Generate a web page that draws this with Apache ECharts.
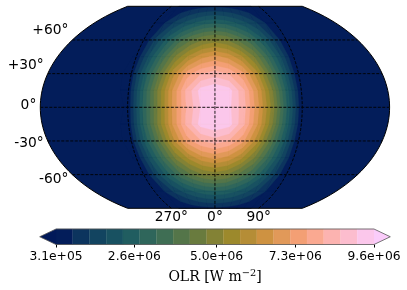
<!DOCTYPE html>
<html><head><meta charset="utf-8">
<style>html,body{margin:0;padding:0;background:#fff}#c{width:407px;height:290px}</style>
<script src="https://cdn.jsdelivr.net/npm/echarts@6/dist/echarts.min.js"></script>
</head><body><div id="c"></div>
<script>
// ---- data ----
const lons = [-105,-90,-75,-60,-45,-30,-15,0,15,30,45,60,75,90,105];
const lats = [90,75,60,45,30,15,0,-15,-30,-45,-60,-75,-90];
// OLR in units of 1e6 W m-2; one row per latitude in `lats`, one column per longitude in `lons`
const olr90  = [.2,.25,.3,.4,.5,.6,.65,.7,.65,.6,.5,.4,.3,.25,.2];
const olr75  = [.2,.25,.8,1.4,1.9,2.3,2.6,2.7,2.6,2.3,1.9,1.4,.8,.2,.2];
const olr60  = [.2,.25,1.4,2.5,3.5,4.2,4.7,4.9,4.7,4.1,3.4,2.4,1.3,.2,.2];
const olr45  = [.2,.35,1.9,3.4,4.8,5.8,6.5,6.8,6.5,5.8,4.7,3.3,1.8,.2,.2];
const olr30  = [.2,.5,2.45,4.2,6,7.4,8.1,8.4,8.1,7.3,5.9,4.1,2.2,.2,.2];
const olr15  = [.2,.45,2.7,4.7,6.6,8.2,9.3,9.55,9.3,8.2,6.6,4.7,2.5,.25,.2];
const olr0   = [.2,.35,2.7,4.6,6.6,8.1,9.1,9.75,9.2,8.3,6.7,4.9,2.6,.25,.2];
const olrS15 = [.2,.45,2.7,4.7,6.6,8.2,9.3,9.55,9.3,8.2,6.6,4.7,2.5,.25,.2];
const olrS30 = [.2,.5,2.45,4.2,6,7.4,8.1,8.4,8.1,7.3,5.9,4.1,2.2,.2,.2];
const olrS45 = [.2,.35,1.9,3.4,4.8,5.8,6.5,6.8,6.5,5.8,4.7,3.3,1.8,.2,.2];
const olrS60 = [.2,.25,1.4,2.5,3.5,4.2,4.7,4.9,4.7,4.1,3.4,2.4,1.3,.2,.2];
const olrS75 = [.2,.25,.8,1.4,1.9,2.3,2.6,2.7,2.6,2.3,1.9,1.4,.8,.2,.2];
const olrS90 = [.2,.25,.3,.4,.5,.6,.65,.7,.65,.6,.5,.4,.3,.25,.2];
const olrRows = [olr90,olr75,olr60,olr45,olr30,olr15,olr0,olrS15,olrS30,olrS45,olrS60,olrS75,olrS90];

const colorbarTicks = [0.31,2.6,5.0,7.3,9.6];
const colorbarTickLabels = ['3.1e+05','2.6e+06','5.0e+06','7.3e+06','9.6e+06'];
const vMin = 0.31, vMax = 9.6, nBands = 19;
const latTicks = [60,30,0,-30,-60];
const latTickLabels = ['+60°','+30°','0°','-30°','-60°'];
const lonTicks = [-90,0,90];
const lonTickLabels = ['270°','0°','90°'];

// ---- style ----
const batlow = ['#011959','#103F60','#1C5A62','#3C6D56','#687B3E','#9D892B','#D29343','#F8A17B','#FDB7BC','#FACCFA'];
const latLabelDy = [-9.3,-8.5,-2,2,4.5];
function hex(c){return [1,3,5].map(i=>parseInt(c.substr(i,2),16));}
function cmap(t){
  const p=Math.min(Math.max(t,0),1)*(batlow.length-1), i=Math.min(Math.floor(p),batlow.length-2), f=p-i;
  const a=hex(batlow[i]),b=hex(batlow[i+1]);
  return 'rgb('+a.map((v,k)=>Math.round(v+(b[k]-v)*f)).join(',')+')';
}
const bandColors=[]; for(let i=0;i<nBands;i++) bandColors.push(cmap(i===0?.012:(i+.5)/nBands));
const levels=[]; for(let i=0;i<=nBands;i++) levels.push(vMin+(vMax-vMin)*i/nBands);

// ---- Kavrayskiy VII projection ----
const D=Math.PI/180, XMAX=1.5*Math.PI/Math.sqrt(3), YMAX=Math.PI/2;
function proj(lon,lat){const p=lat*D;return [3*(lon*D)/(2*Math.PI)*Math.sqrt(Math.PI*Math.PI/3-p*p),p];}

// keep the part of a [lon,lat,v] polygon at or above a threshold
function clipAbove(poly,th){
  const out=[],n=poly.length;
  for(let i=0;i<n;i++){
    const a=poly[i],b=poly[(i+1)%n];
    const ia=a[2]>=th, ib=b[2]>=th;
    if(ia) out.push(a);
    if(ia!==ib){const t=(th-a[2])/(b[2]-a[2]);out.push([a[0]+(b[0]-a[0])*t,a[1]+(b[1]-a[1])*t,th]);}
  }
  return out;
}
// one item per filled band, painted low to high: each paints the region above its level
function renderBand(params,api){
  const b=params.dataIndex, children=[];
  for(let j=0;j<lats.length-1;j++)for(let i=0;i<lons.length-1;i++){
    const q=[[lons[i],lats[j],olrRows[j][i]],[lons[i+1],lats[j],olrRows[j][i+1]],[lons[i+1],lats[j+1],olrRows[j+1][i+1]],[lons[i],lats[j+1],olrRows[j+1][i]]];
    const poly=clipAbove(q,levels[b]);
    if(poly.length<3)continue;
    children.push({type:'polygon',shape:{points:poly.map(p=>api.coord(proj(p[0],p[1])))},style:{fill:bandColors[b],stroke:bandColors[b],lineWidth:.3}});
  }
  return {type:'group',children};
}
function latLine(lat){const r=[];for(let l=-180;l<=180;l+=10)r.push(proj(l,lat));return r;}
function lonLine(lon){const r=[];for(let l=-90;l<=90;l+=5)r.push(proj(lon,l));return r;}
function outline(){const r=[];
  for(let l=-90;l<=90;l+=3)r.push(proj(180,l));
  for(let l=90;l>=-90;l-=3)r.push(proj(-180,l));
  return r;}
const dash={type:'line',coordinateSystem:'cartesian2d',xAxisIndex:0,yAxisIndex:0,showSymbol:false,symbol:'none',silent:true,animation:false,z:5,
  lineStyle:{color:'#000',width:1,type:[3,1.5],cap:'butt',opacity:.9}};

const series=[
 {type:'custom',xAxisIndex:0,yAxisIndex:0,animation:false,silent:true,z:1,data:[[0]],
  renderItem:(p,api)=>({type:'polygon',shape:{points:outline().map(c=>api.coord(c))},style:{fill:bandColors[0]}})},
 {type:'custom',xAxisIndex:0,yAxisIndex:0,animation:false,silent:true,z:2,data:levels.slice(0,nBands).map(v=>[v]),renderItem:renderBand},
];
latTicks.forEach(l=>series.push(Object.assign({},dash,{data:latLine(l)})));
lonTicks.forEach(l=>series.push(Object.assign({},dash,{data:lonLine(l)})));
series.push({type:'custom',xAxisIndex:0,yAxisIndex:0,animation:false,silent:true,z:6,data:[[0]],
  renderItem:(p,api)=>({type:'polygon',shape:{points:outline().map(c=>api.coord(c))},style:{fill:'none',stroke:'#000',lineWidth:1}})});
// graticule labels
const tickFont={fontFamily:'DejaVu Sans',fontSize:13.8,fill:'#000'};
series.push({type:'custom',xAxisIndex:0,yAxisIndex:0,animation:false,silent:true,z:7,data:latTicks.map((l,i)=>[i]),clip:false,
  renderItem:(p,api)=>{const i=api.value(0),c=api.coord(proj(-180,latTicks[i]));
    return {type:'text',x:c[0]-4,y:c[1]+latLabelDy[i],style:Object.assign({text:latTickLabels[i],textAlign:'right',textVerticalAlign:'middle'},tickFont)};}});
series.push({type:'custom',xAxisIndex:0,yAxisIndex:0,animation:false,silent:true,z:7,data:lonTicks.map((l,i)=>[i]),clip:false,
  renderItem:(p,api)=>{const i=api.value(0),c=api.coord(proj(lonTicks[i],-90));
    return {type:'text',x:c[0],y:c[1]+9.5,style:Object.assign({text:lonTickLabels[i],textAlign:'center',textVerticalAlign:'middle'},tickFont)};}});
// colorbar
const extend=(vMax-vMin)*16.3/318;
series.push({type:'custom',xAxisIndex:1,yAxisIndex:1,animation:false,silent:true,z:2,clip:false,
  data:bandColors.map((c,i)=>[levels[i],levels[i+1]]),
  renderItem:(p,api)=>{const a=api.coord([api.value(0),0]),b=api.coord([api.value(1),1]);
    return {type:'rect',shape:{x:a[0],y:b[1],width:b[0]-a[0],height:a[1]-b[1]},style:{fill:bandColors[p.dataIndex],stroke:bandColors[p.dataIndex],lineWidth:.3}};}});
series.push({type:'custom',xAxisIndex:1,yAxisIndex:1,animation:false,silent:true,z:3,clip:false,data:[[0]],
  renderItem:(p,api)=>({type:'group',children:[
    {type:'polygon',shape:{points:[[vMin,0],[vMin-extend,.5],[vMin,1]].map(c=>api.coord(c))},style:{fill:cmap(0)}},
    {type:'polygon',shape:{points:[[vMax,0],[vMax+extend,.5],[vMax,1]].map(c=>api.coord(c))},style:{fill:cmap(1)}},
    {type:'polygon',shape:{points:[[vMin,0],[vMin-extend,.5],[vMin,1],[vMax,1],[vMax+extend,.5],[vMax,0]].map(c=>api.coord(c))},style:{fill:'none',stroke:'#555',lineWidth:.8}}
  ]})});

const chart=echarts.init(document.getElementById('c'),null,{renderer:'canvas'});
chart.setOption({
  animation:false,backgroundColor:'#fff',
  grid:[{left:40.3,width:349.3,top:6.3,height:202,containLabel:false},{left:56,width:318,top:229,height:15.5}],
  xAxis:[
    {type:'value',gridIndex:0,min:-XMAX,max:XMAX,show:false},
    {type:'value',gridIndex:1,min:vMin,max:vMax,
     name:'{a|OLR [W m}{s|−2}{a|]}',nameLocation:'middle',nameGap:24,
     nameTextStyle:{rich:{
       a:{fontFamily:'DejaVu Serif',fontSize:14,color:'#000',lineHeight:18},
       s:{fontFamily:'DejaVu Serif',fontSize:9.8,color:'#000',lineHeight:8,verticalAlign:'top'}}},
     axisLine:{show:false},splitLine:{show:false},
     axisTick:{show:true,length:3,lineStyle:{color:'#000',width:1},customValues:colorbarTicks},
     axisLabel:{show:true,margin:6,fontFamily:'DejaVu Sans',fontSize:12.3,color:'#000',hideOverlap:false,showMinLabel:true,showMaxLabel:true,
       customValues:colorbarTicks,formatter:(v)=>colorbarTickLabels[colorbarTicks.indexOf(v)]}}
  ],
  yAxis:[
    {type:'value',gridIndex:0,min:-YMAX,max:YMAX,show:false},
    {type:'value',gridIndex:1,min:0,max:1,show:false}
  ],
  series
});
</script></body></html>
